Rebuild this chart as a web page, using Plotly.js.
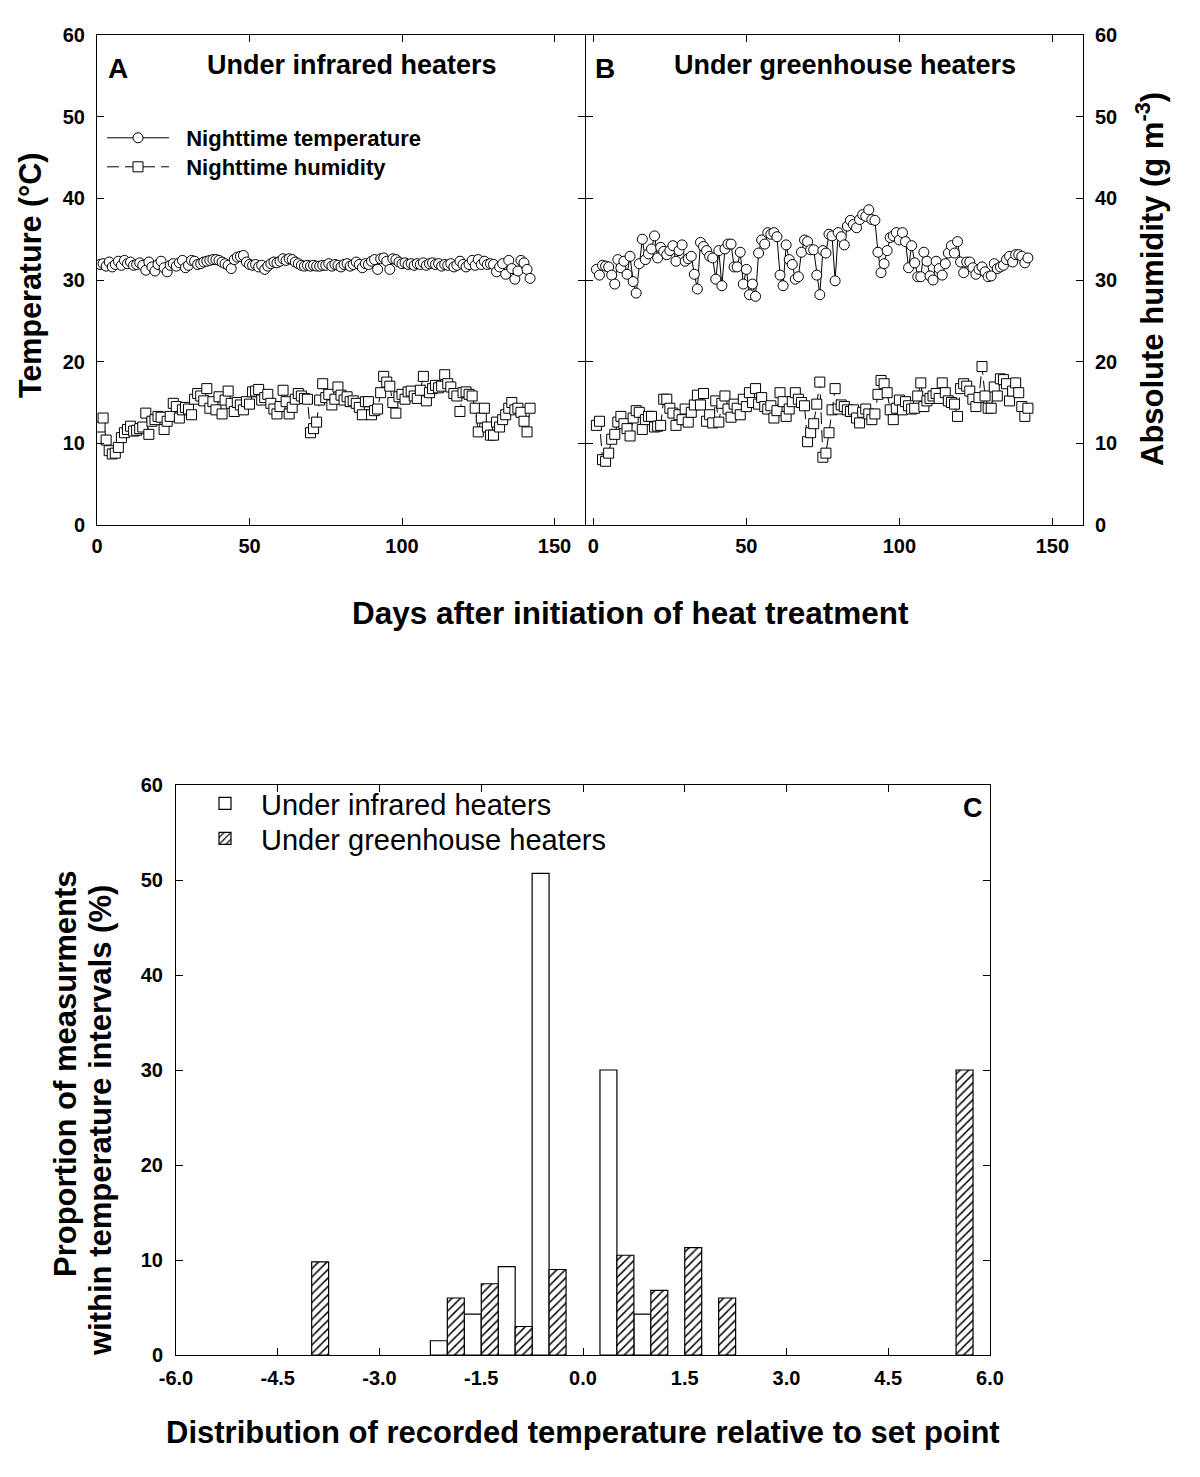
<!DOCTYPE html>
<html>
<head>
<meta charset="utf-8">
<script src="https://cdn.plot.ly/plotly-3.0.1.min.js"></script>
<style>html,body{margin:0;padding:0;background:#fff;}#chart{width:1200px;height:1477px;}</style>
</head>
<body>
<div id="chart"></div>
<script>
// ---- Data ----
const days = [1,2,3,4,5,6,7,8,9,10,11,12,13,14,15,16,17,18,19,20,21,22,23,24,25,26,27,28,29,30,
31,32,33,34,35,36,37,38,39,40,41,42,43,44,45,46,47,48,49,50,51,52,53,54,55,56,57,58,59,60,
61,62,63,64,65,66,67,68,69,70,71,72,73,74,75,76,77,78,79,80,81,82,83,84,85,86,87,88,89,90,
91,92,93,94,95,96,97,98,99,100,101,102,103,104,105,106,107,108,109,110,111,112,113,114,115,116,117,118,119,120,
121,122,123,124,125,126,127,128,129,130,131,132,133,134,135,136,137,138,139,140,141,142];

const tempInfrared = [31.9,32.0,31.7,32.2,31.6,31.9,32.3,31.8,32.4,32.0,
32.2,31.8,31.9,32.1,31.8,31.2,32.2,31.6,31.1,31.9,
32.3,31.5,31.0,31.8,32.0,31.7,32.1,32.4,31.5,31.8,
32.4,32.3,31.9,32.0,32.2,32.3,32.4,32.5,32.5,32.4,
32.2,32.0,31.8,31.4,32.5,32.8,32.9,33.0,32.2,31.9,
31.8,31.9,31.6,31.8,31.3,31.7,32.0,32.2,32.1,32.3,
32.6,32.4,32.6,32.5,32.2,32.0,31.8,31.7,31.8,31.7,
31.8,31.7,31.7,31.8,31.8,32.0,31.7,31.9,31.8,31.6,
31.9,32.0,31.7,31.9,32.2,31.9,31.5,32.0,31.9,32.3,
32.5,31.3,32.6,32.7,32.3,31.3,32.6,32.5,32.2,32.0,
32.1,31.9,32.0,31.8,32.0,31.9,32.1,31.8,32.0,32.1,
31.9,32.0,31.7,31.9,31.8,32.0,31.6,31.8,32.3,31.9,
31.6,31.9,32.4,31.8,32.5,31.9,32.3,31.9,32.0,31.9,
31.0,31.6,32.0,30.7,32.4,31.4,30.1,31.1,32.4,32.1,31.3,30.2];

const humInfrared = [12.0,13.1,10.4,9.1,8.7,8.8,9.5,10.7,11.3,11.7,
12.1,11.5,11.6,11.8,12.0,13.7,11.1,12.7,12.9,13.3,
13.2,11.7,12.7,13.3,14.9,14.5,13.1,14.1,14.4,14.2,
13.5,15.4,16.1,15.8,15.2,16.7,14.3,15.1,14.1,15.7,
13.6,15.3,16.4,14.9,13.9,15.0,14.7,14.1,15.1,14.8,
16.3,16.4,16.6,15.3,15.6,16.0,14.9,14.2,13.6,14.5,
16.5,15.1,13.6,14.4,15.4,16.1,15.8,15.5,15.4,11.3,
11.8,12.6,15.3,17.3,15.6,16.0,14.7,15.4,16.9,15.9,
15.3,15.7,15.1,15.2,14.9,14.4,13.5,15.1,15.1,13.5,
14.0,14.2,16.2,18.2,17.5,17.0,15.0,13.7,15.7,16.0,
15.4,16.3,16.4,15.8,15.5,16.5,18.2,15.2,16.2,16.7,
17.1,16.8,17.0,18.4,17.3,16.9,16.1,15.8,13.9,16.2,
16.3,16.0,15.8,14.3,11.4,13.1,14.3,12.0,11.0,11.0,
12.6,12.0,12.9,13.5,14.3,15.0,14.1,14.3,13.8,12.7,11.4,14.3];

const tempGreenhouse = [31.3,30.6,31.8,31.7,31.6,30.6,29.5,32.5,31.5,32.3,
30.7,32.9,29.8,28.4,32.0,35.0,32.5,33.2,33.8,35.4,
32.7,34.0,33.5,33.1,33.6,34.2,32.3,33.6,34.3,32.3,
32.6,32.9,30.7,28.9,34.6,34.1,33.6,32.9,32.7,30.1,
33.6,29.3,33.8,34.4,34.4,31.6,31.6,33.4,29.5,31.3,
28.2,29.5,28.0,33.3,34.9,34.4,35.8,35.6,35.8,35.3,
30.6,29.3,34.3,32.5,31.9,30.1,30.4,33.4,34.9,34.7,
33.7,33.7,30.6,28.2,33.6,33.3,35.6,35.4,29.9,35.8,
35.3,34.3,36.6,37.3,36.8,36.4,37.4,38.0,37.8,38.6,
37.4,37.3,33.4,30.9,32.0,33.6,35.2,35.4,35.8,34.9,
35.8,34.7,31.5,34.2,32.1,30.4,30.4,33.4,32.3,30.5,
30.0,32.3,31.4,30.6,32.0,33.3,34.2,33.3,34.7,32.2,
30.9,32.2,32.2,31.5,30.7,31.3,31.6,31.0,30.4,30.5,
32.0,31.4,31.6,31.8,32.5,32.9,32.2,33.1,33.1,32.9,32.1,32.7];

const humGreenhouse = [12.2,12.7,8.0,7.8,8.8,10.5,11.1,12.6,13.3,12.4,
11.8,10.9,13.1,14.0,13.8,11.7,12.9,13.3,13.3,12.0,
12.1,12.2,15.4,15.4,14.3,13.7,12.2,13.5,12.9,14.2,
12.6,13.8,14.7,15.9,14.7,16.1,12.7,13.5,12.5,15.2,
12.6,14.9,15.8,14.2,13.2,14.8,14.3,13.5,15.4,14.5,
16.2,15.0,16.7,14.8,15.6,14.5,14.2,14.6,13.1,14.0,
16.2,15.1,13.3,14.2,15.1,16.2,15.4,15.0,14.6,10.2,
11.3,12.4,14.8,17.5,8.3,8.8,11.3,14.1,16.7,14.2,
14.7,14.5,14.1,13.9,14.1,13.1,12.5,13.8,14.2,13.6,
12.9,13.6,16.0,17.7,17.3,16.2,14.1,12.9,14.3,15.3,
14.1,15.1,14.6,14.2,14.3,15.8,17.4,14.5,15.2,15.5,
15.8,16.1,15.5,17.4,16.2,15.2,15.0,14.8,13.3,16.7,
17.3,17.0,16.4,15.4,14.5,15.6,19.4,15.8,14.3,14.3,
16.9,15.8,17.9,17.8,17.3,15.2,16.4,17.4,16.2,14.5,13.3,14.3];

// Panel C: temperature interval (centre of bin pair) and proportion (%)
const binsInfrared = [-2.0,-1.5,-1.0,-0.5,0.5,1.0];
const pctInfrared = [1.5,4.3,9.3,50.7,30.0,4.3];
const binsGreenhouse = [-4.0,-2.0,-1.5,-1.0,-0.5,0.5,1.0,1.5,2.0,5.5];
const pctGreenhouse = [9.8,6.0,7.5,3.0,9.0,10.5,6.8,11.3,6.0,30.0];

const xTicksTop = [0,50,100,150];
const yTicks = [0,10,20,30,40,50,60];
const xTicksC = [-6,-4.5,-3,-1.5,0,1.5,3,4.5,6];
const xTickLabelsC = ['-6.0','-4.5','-3.0','-1.5','0.0','1.5','3.0','4.5','6.0'];

// ---- Styling ----
const FONT = 'Liberation Sans, Arial, Helvetica, sans-serif';
const W = 1200, H = 1477;
const px = v => v / W;
const py = v => 1 - v / H;
const NB = '\u00A0\u00A0';

const tickFont = {family: FONT, size: 20, color: '#000', weight: 'bold'};
function axisBase(extra) {
  return Object.assign({
    showline: true, linecolor: '#000', linewidth: 1, mirror: 'ticks',
    ticks: 'inside', ticklen: 7, tickwidth: 1, tickcolor: '#000',
    showgrid: false, zeroline: false, tickfont: tickFont, fixedrange: true
  }, extra);
}

const circleMarker = {symbol: 'circle', size: 10, color: '#fff', line: {color: '#000', width: 1}};
const squareMarker = {symbol: 'square', size: 10, color: '#fff', line: {color: '#000', width: 1}};

const traces = [
  {x: days, y: tempInfrared, xaxis: 'x', yaxis: 'y', type: 'scatter', mode: 'lines+markers',
   name: NB + '<b>Nighttime temperature</b>', line: {color: '#000', width: 1}, marker: circleMarker, legend: 'legend'},
  {x: days, y: humInfrared, xaxis: 'x', yaxis: 'y', type: 'scatter', mode: 'lines+markers',
   name: NB + '<b>Nighttime humidity</b>', line: {color: '#000', width: 1, dash: '12px,6px'}, marker: squareMarker, legend: 'legend3'},
  {x: days, y: tempGreenhouse, xaxis: 'x2', yaxis: 'y2', type: 'scatter', mode: 'lines+markers',
   showlegend: false, line: {color: '#000', width: 1}, marker: circleMarker},
  {x: days, y: humGreenhouse, xaxis: 'x2', yaxis: 'y2', type: 'scatter', mode: 'lines+markers',
   showlegend: false, line: {color: '#000', width: 1, dash: '12px,6px'}, marker: squareMarker},
  {x: binsInfrared, y: pctInfrared, xaxis: 'x3', yaxis: 'y3', type: 'bar',
   name: 'Under infrared heaters', width: 0.25, offset: -0.25,
   marker: {color: '#fff', line: {color: '#000', width: 1.2}}, legend: 'legend2'},
  {x: binsGreenhouse, y: pctGreenhouse, xaxis: 'x3', yaxis: 'y3', type: 'bar',
   name: 'Under greenhouse heaters', width: 0.25, offset: 0,
   marker: {color: '#fff', line: {color: '#000', width: 1.2},
            pattern: {shape: '/', fgcolor: '#000', bgcolor: '#fff', size: 6, solidity: 0.25}}, legend: 'legend4'}
];

const titleFont = (s) => ({family: FONT, size: s, color: '#000'});
const legBase = (x, y, size) => ({x: px(x), y: py(y), xanchor: 'left', yanchor: 'top', bgcolor: 'rgba(0,0,0,0)',
  font: {family: FONT, size: size, color: '#000'}, itemwidth: 62});

const layout = {
  width: W, height: H,
  margin: {l: 0, r: 0, t: 0, b: 0},
  paper_bgcolor: '#fff', plot_bgcolor: '#fff',
  font: {family: FONT, color: '#000'},
  showlegend: true,
  xaxis: axisBase({domain: [px(97), px(585)], anchor: 'y', range: [0, 160], tickvals: xTicksTop, ticklabelstandoff: 3}),
  yaxis: axisBase({domain: [py(525), py(35)], anchor: 'x', range: [0, 60], tickvals: yTicks, ticklabelstandoff: 7}),
  xaxis2: axisBase({domain: [px(586), px(1083)], anchor: 'y2', range: [-2.4, 160], tickvals: xTicksTop, ticklabelstandoff: 3}),
  yaxis2: axisBase({domain: [py(525), py(35)], anchor: 'x2', side: 'right', range: [0, 60], tickvals: yTicks, ticklabelstandoff: 7}),
  xaxis3: axisBase({domain: [px(176), px(990)], anchor: 'y3', range: [-6, 6], tickvals: xTicksC, ticktext: xTickLabelsC, ticklabelstandoff: 5}),
  yaxis3: axisBase({domain: [py(1355), py(785)], anchor: 'x3', range: [0, 60], tickvals: yTicks, ticklabelstandoff: 8}),
  legend: legBase(102, 117, 22),
  legend3: legBase(102, 146, 22),
  legend2: legBase(189, 778, 29),
  legend4: legBase(189, 813, 29),
  annotations: [
    {xref: 'paper', yref: 'paper', x: px(106), y: py(68), xanchor: 'left', yanchor: 'middle', showarrow: false,
     text: '<b>A</b>', font: titleFont(28)},
    {xref: 'paper', yref: 'paper', x: px(352), y: py(65), xanchor: 'center', yanchor: 'middle', showarrow: false,
     text: '<b>Under infrared heaters</b>', font: titleFont(27)},
    {xref: 'paper', yref: 'paper', x: px(593), y: py(68), xanchor: 'left', yanchor: 'middle', showarrow: false,
     text: '<b>B</b>', font: titleFont(28)},
    {xref: 'paper', yref: 'paper', x: px(845), y: py(65), xanchor: 'center', yanchor: 'middle', showarrow: false,
     text: '<b>Under greenhouse heaters</b>', font: titleFont(27)},
    {xref: 'paper', yref: 'paper', x: px(973), y: py(808), xanchor: 'center', yanchor: 'middle', showarrow: false,
     text: '<b>C</b>', font: titleFont(27)},
    {xref: 'paper', yref: 'paper', x: px(30), y: py(275), xanchor: 'center', yanchor: 'middle', showarrow: false,
     textangle: -90, text: '<b>Temperature (°C)</b>', font: titleFont(30.5)},
    {xref: 'paper', yref: 'paper', x: px(1150), y: py(279), xanchor: 'center', yanchor: 'middle', showarrow: false,
     textangle: -90, text: '<b>Absolute humidity (g m<sup>-3</sup>)</b>', font: titleFont(31)},
    {xref: 'paper', yref: 'paper', x: px(630), y: py(613), xanchor: 'center', yanchor: 'middle', showarrow: false,
     text: '<b>Days after initiation of heat treatment</b>', font: titleFont(31.5)},
    {xref: 'paper', yref: 'paper', x: px(65), y: py(1074), xanchor: 'center', yanchor: 'middle', showarrow: false,
     textangle: -90, text: '<b>Proportion of measurments</b>', font: titleFont(31)},
    {xref: 'paper', yref: 'paper', x: px(100), y: py(1121), xanchor: 'center', yanchor: 'middle', showarrow: false,
     textangle: -90, text: '<b>within temperature intervals (%)</b>', font: titleFont(31)},
    {xref: 'paper', yref: 'paper', x: px(583), y: py(1432), xanchor: 'center', yanchor: 'middle', showarrow: false,
     text: '<b>Distribution of recorded temperature relative to set point</b>', font: titleFont(31)}
  ]
};

Plotly.newPlot('chart', traces, layout, {staticPlot: true, displayModeBar: false});
</script>
</body>
</html>
